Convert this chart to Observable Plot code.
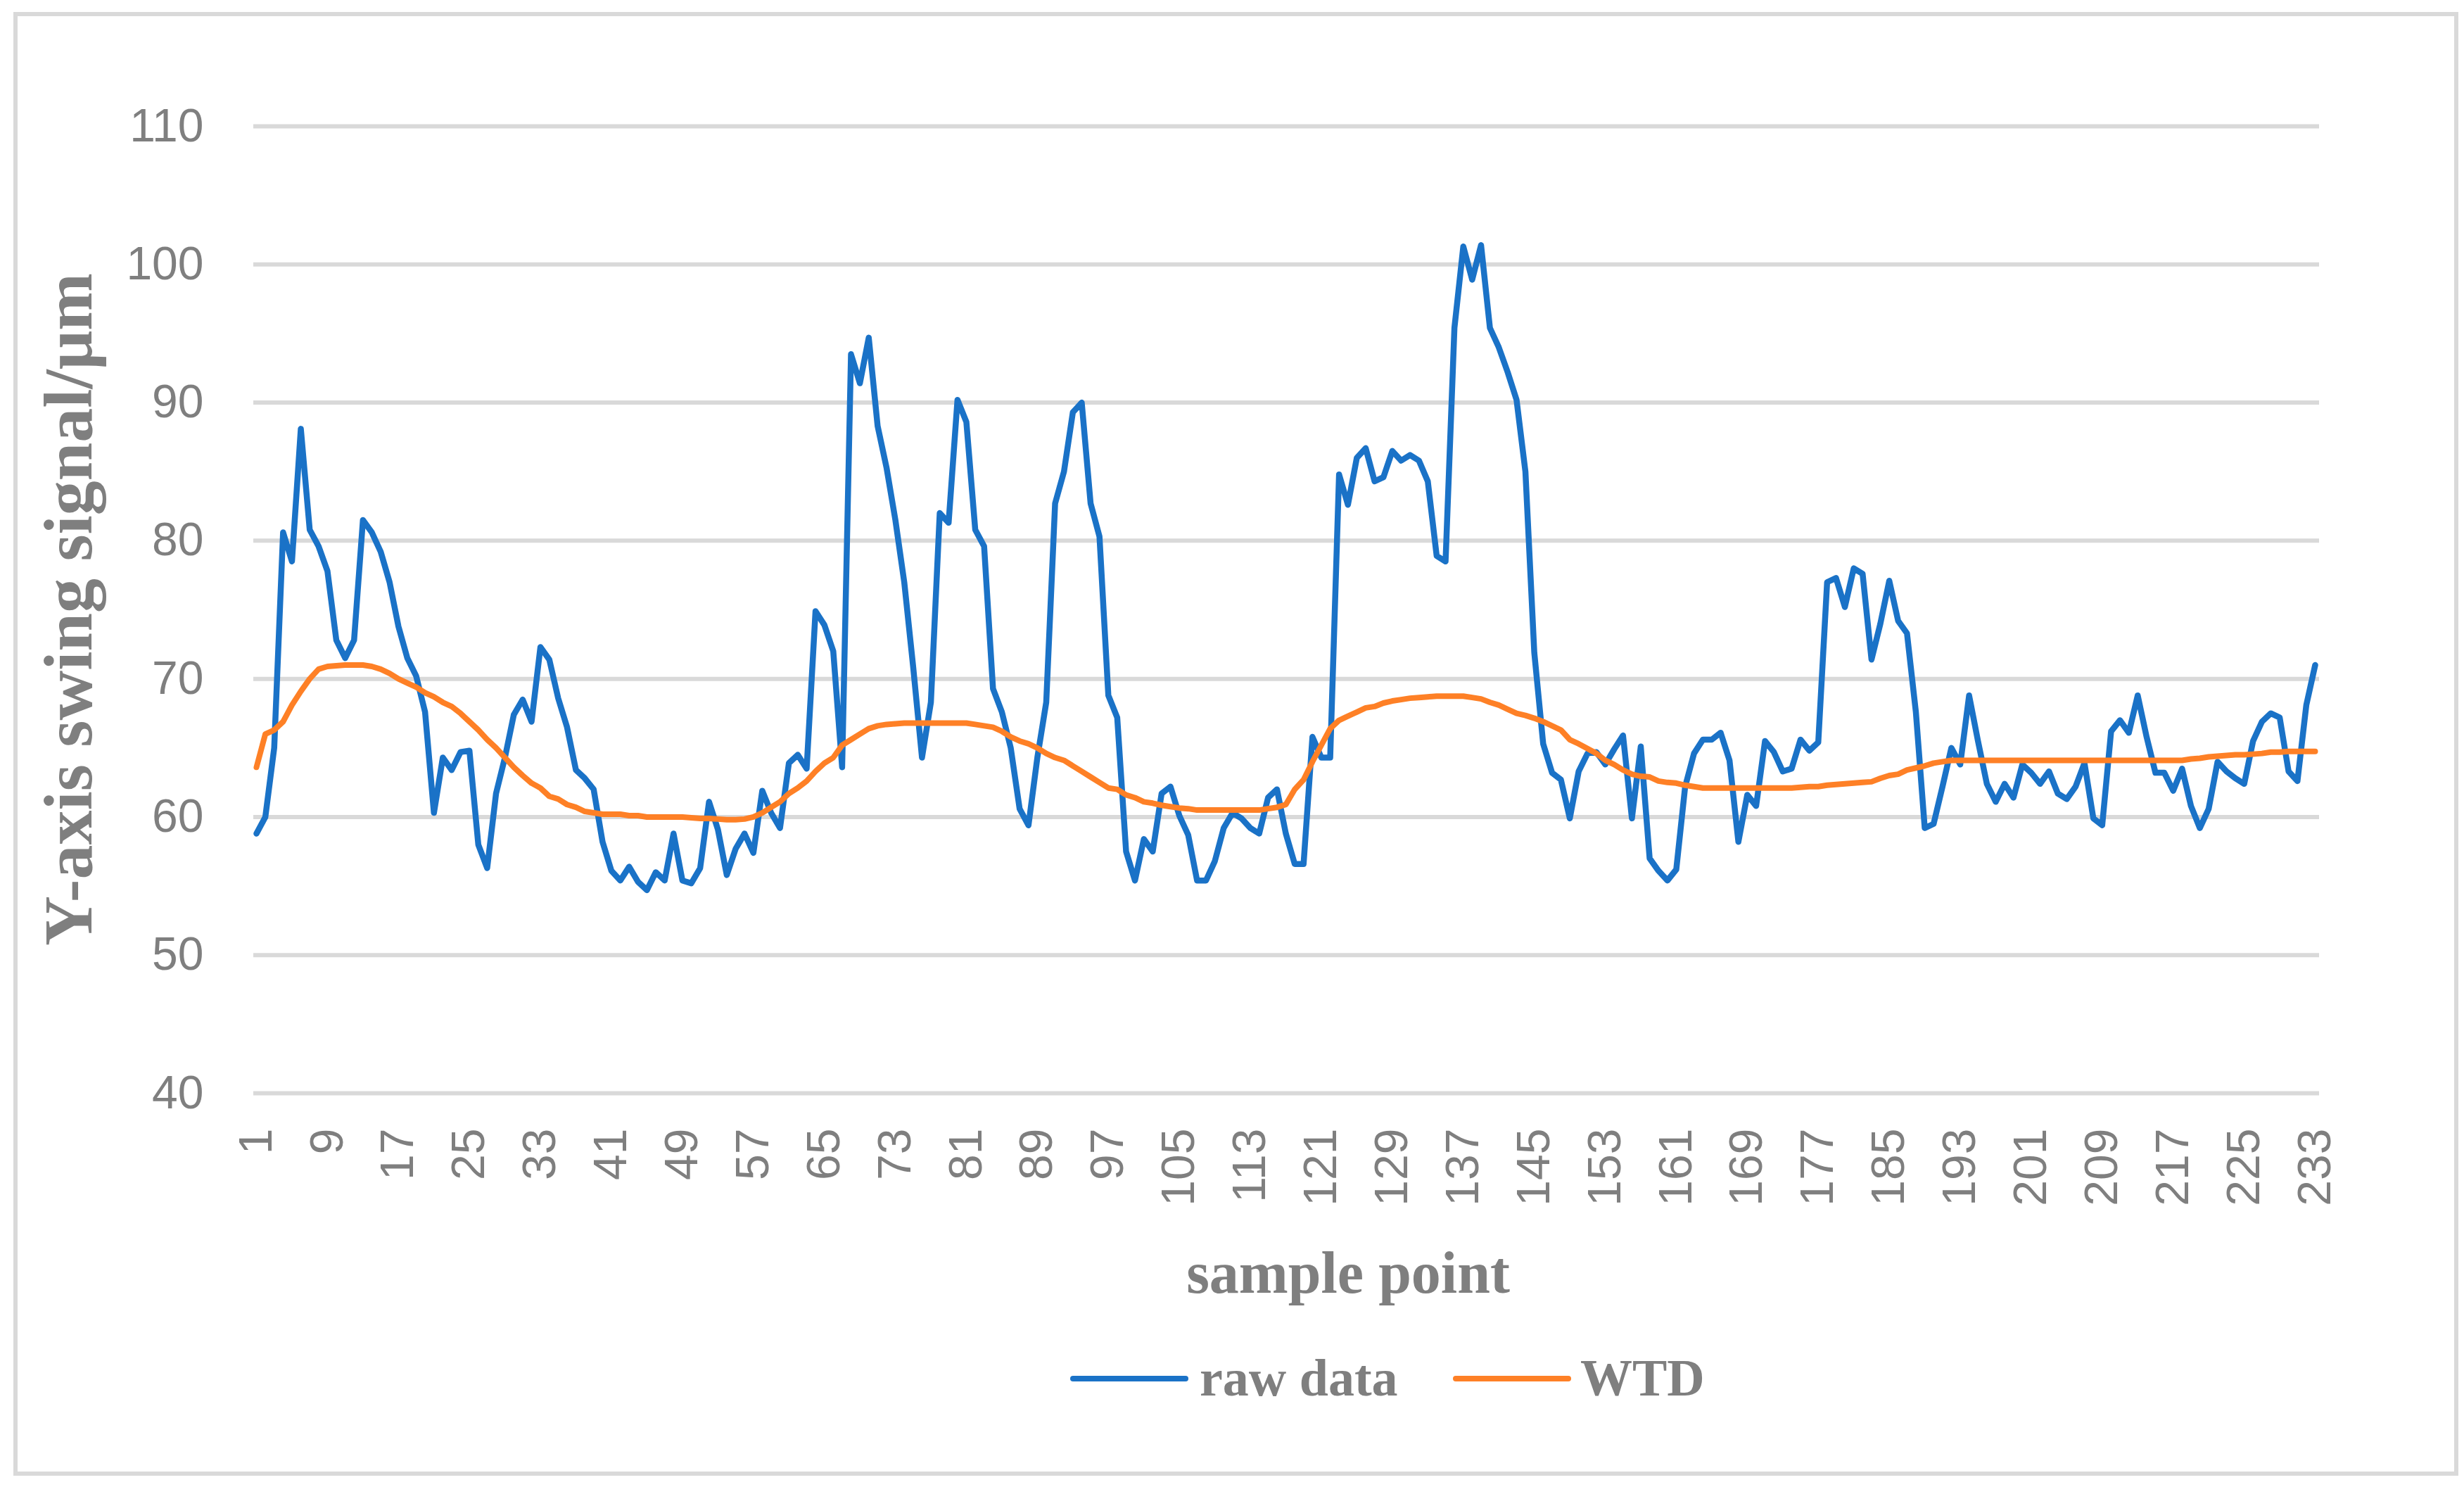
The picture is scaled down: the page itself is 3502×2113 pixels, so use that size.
<!DOCTYPE html>
<html>
<head>
<meta charset="utf-8">
<script src="https://cdn.jsdelivr.net/npm/d3@7"></script>
<script src="https://cdn.jsdelivr.net/npm/@observablehq/plot@0.6"></script>
<style>
  html, body { margin: 0; padding: 0; background: #fff; }
  #chart { position: relative; width: 3502px; height: 2113px; background: #fff; overflow: hidden; }
  #plot { position: absolute; left: 0; top: 0; }
  .frame { position: absolute; left: 19px; top: 17px; width: 3475px; height: 2080px; border: 6px solid #d9d9d9; box-sizing: border-box; }
  .ttl { position: absolute; font-family: "Liberation Serif", "Times New Roman", serif; font-weight: bold; color: #7f7f7f; line-height: 1; white-space: nowrap; }
  .swatch { position: absolute; height: 8px; width: 168px; border-radius: 4px; }
</style>
</head>
<body>
<div id="chart">
  <div class="frame"></div>
  <div id="plot"></div>
  <div class="ttl" id="ytitle" style="font-size:98px; left:97px; top:866px; transform: translate(-50%,-50%) rotate(-90deg);"></div>
  <div class="ttl" id="xtitle" style="font-size:84px; left:1916px; top:1809px; transform: translate(-50%,-50%);"></div>
  <div class="swatch" id="sw0" style="left:1521px; top:1955px;"></div>
  <div class="ttl" id="lg0" style="font-size:74px; left:1705px; top:1921px;"></div>
  <div class="swatch" id="sw1" style="left:2065px; top:1955px;"></div>
  <div class="ttl" id="lg1" style="font-size:74px; left:2246px; top:1921px;"></div>
</div>
<script>
// ---- data ----
const seriesNames = ["raw data", "WTD"];
const seriesColors = ["#1a72c7", "#fe8026"];
const yTitle = "Y-axis swing signal/μm";
const xTitle = "sample point";

const rawData = [
  58.8, 60.0, 65.0, 80.6, 78.5, 88.1, 80.8, 79.6, 77.8, 72.8,
  71.5, 72.8, 81.5, 80.6, 79.2, 77.0, 73.8, 71.5, 70.2, 67.6,
  60.3, 64.3, 63.4, 64.7, 64.8, 58.0, 56.3, 61.7, 64.3, 67.4,
  68.5, 66.9, 72.3, 71.4, 68.6, 66.5, 63.4, 62.8, 62.0, 58.2,
  56.1, 55.4, 56.4, 55.3, 54.7, 56.0, 55.4, 58.8, 55.4, 55.2,
  56.3, 61.1, 59.1, 55.8, 57.7, 58.8, 57.4, 61.9, 60.3, 59.2,
  63.9, 64.5, 63.5, 74.9, 73.9, 72.0, 63.6, 93.5, 91.4, 94.7,
  88.3, 85.3, 81.5, 77.0, 70.9, 64.3, 68.3, 82.0, 81.3, 90.2,
  88.6, 80.8, 79.6, 69.3, 67.6, 65.0, 60.6, 59.4, 64.3, 68.3,
  82.7, 85.0, 89.3, 90.0, 82.7, 80.3, 68.8, 67.2, 57.5, 55.4,
  58.4, 57.5, 61.7, 62.2, 60.1, 58.7, 55.4, 55.4, 56.8, 59.2,
  60.3, 59.9, 59.2, 58.8, 61.4, 62.0, 58.8, 56.6, 56.6, 65.8,
  64.3, 64.3, 84.8, 82.6, 86.0, 86.7, 84.3, 84.6, 86.5, 85.8,
  86.2, 85.8, 84.3, 78.9, 78.5, 95.4, 101.3, 98.9, 101.4, 95.4,
  94.0, 92.2, 90.2, 85.0, 71.9, 65.3, 63.2, 62.7, 59.9, 63.3,
  64.6, 64.7, 63.8, 64.9, 65.9, 59.9, 65.1, 57.0, 56.1, 55.4,
  56.2, 62.2, 64.6, 65.6, 65.6, 66.1, 64.1, 58.2, 61.6, 60.8,
  65.5, 64.7, 63.3, 63.5, 65.6, 64.8, 65.4, 77.0, 77.3, 75.2,
  78.0, 77.6, 71.4, 74.0, 77.1, 74.2, 73.3, 67.6, 59.2, 59.5,
  62.2, 65.0, 63.8, 68.8, 65.5, 62.4, 61.1, 62.4, 61.4, 63.8,
  63.2, 62.4, 63.3, 61.7, 61.3, 62.2, 63.9, 59.9, 59.4, 66.2,
  67.0, 66.1, 68.8, 65.8, 63.2, 63.2, 61.9, 63.5, 60.8, 59.2,
  60.6, 64.0, 63.3, 62.8, 62.4, 65.5, 66.9, 67.5, 67.2, 63.3,
  62.6, 68.1, 71.0
];

const wtdData = [
  63.6, 66.0, 66.3, 66.9, 68.1, 69.1, 70.0, 70.7, 70.9, 70.95,
  71.0, 71.0, 71.0, 70.9, 70.7, 70.4, 70.0, 69.7, 69.4, 69.0,
  68.7, 68.3, 68.0, 67.5, 66.9, 66.3, 65.6, 65.0, 64.3, 63.6,
  63.0, 62.45, 62.1, 61.5, 61.3, 60.9, 60.7, 60.4, 60.3, 60.2,
  60.2, 60.2, 60.1, 60.1, 60.0, 60.0, 60.0, 60.0, 60.0, 59.95,
  59.9, 59.9, 59.85, 59.8, 59.8, 59.85, 60.0, 60.3, 60.7, 61.1,
  61.7, 62.1, 62.6, 63.3, 63.9, 64.3, 65.2, 65.6, 66.0, 66.4,
  66.6, 66.7, 66.75, 66.8, 66.8, 66.8, 66.8, 66.8, 66.8, 66.8,
  66.8, 66.7, 66.6, 66.5, 66.2, 65.8, 65.5, 65.3, 65.0, 64.6,
  64.3, 64.1, 63.7, 63.3, 62.9, 62.5, 62.1, 62.0, 61.6, 61.4,
  61.1, 61.0, 60.85, 60.75, 60.65, 60.6, 60.5, 60.5, 60.5, 60.5,
  60.5, 60.5, 60.5, 60.5, 60.6, 60.7, 60.9, 62.0, 62.7, 64.0,
  65.2, 66.4, 67.0, 67.3, 67.6, 67.9, 68.0, 68.25, 68.4, 68.5,
  68.6, 68.65, 68.7, 68.75, 68.75, 68.75, 68.75, 68.65, 68.55, 68.3,
  68.1, 67.8, 67.5, 67.35, 67.15, 66.9, 66.6, 66.3, 65.6, 65.3,
  64.95, 64.6, 64.1, 63.8, 63.4, 63.1, 62.95, 62.9, 62.6, 62.5,
  62.45, 62.3, 62.2, 62.1, 62.1, 62.1, 62.1, 62.1, 62.1, 62.1,
  62.1, 62.1, 62.1, 62.1, 62.15, 62.2, 62.2, 62.3, 62.35, 62.4,
  62.45, 62.5, 62.55, 62.8, 63.0, 63.1, 63.4, 63.55, 63.7, 63.9,
  64.0, 64.1, 64.1, 64.1, 64.1, 64.1, 64.1, 64.1, 64.1, 64.1,
  64.1, 64.1, 64.1, 64.1, 64.1, 64.1, 64.1, 64.1, 64.1, 64.1,
  64.1, 64.1, 64.1, 64.1, 64.1, 64.1, 64.1, 64.1, 64.2, 64.25,
  64.35, 64.4, 64.45, 64.5, 64.5, 64.55, 64.6, 64.7, 64.7, 64.75,
  64.75, 64.75, 64.75
];

const xTicks = [1, 9, 17, 25, 33, 41, 49, 57, 65, 73, 81, 89, 97, 105, 113, 121, 129, 137, 145, 153, 161, 169, 177, 185, 193, 201, 209, 217, 225, 233];
const yTicks = [40, 50, 60, 70, 80, 90, 100, 110];

// ---- tables ----
const rawTable = rawData.map((v, i) => ({sample: i + 1, value: v}));
const wtdTable = wtdData.map((v, i) => ({sample: i + 1, value: v}));

const plot = Plot.plot({
  width: 3502,
  height: 1720,
  marginTop: 179,
  marginBottom: 167,
  marginLeft: 364,
  marginRight: 212,
  style: {fontFamily: '"Liberation Sans", Arial, sans-serif', fontSize: "66px", color: "#7f7f7f", background: "transparent", overflow: "visible"},
  x: {domain: [1, 233]},
  y: {domain: [40, 110]},
  marks: [
    Plot.ruleY(yTicks, {stroke: "#d9d9d9", strokeWidth: 6, insetLeft: -4, insetRight: -6}),
    Plot.axisY({ticks: yTicks, tickSize: 0, tickPadding: 75, label: null, tickFormat: d => String(d)}),
    Plot.axisX({ticks: xTicks, tickSize: 0, tickPadding: 50, tickRotate: -90, label: null, tickFormat: d => String(d)}),
    Plot.line(rawTable, {x: "sample", y: "value", stroke: seriesColors[0], strokeWidth: 8.5, strokeLinejoin: "round", strokeLinecap: "round"}),
    Plot.line(wtdTable, {x: "sample", y: "value", stroke: seriesColors[1], strokeWidth: 8, strokeLinejoin: "round", strokeLinecap: "round"})
  ]
});
document.getElementById("plot").appendChild(plot);

document.getElementById("ytitle").textContent = yTitle;
document.getElementById("xtitle").textContent = xTitle;
document.getElementById("lg0").textContent = seriesNames[0];
document.getElementById("lg1").textContent = seriesNames[1];
document.getElementById("sw0").style.background = seriesColors[0];
document.getElementById("sw1").style.background = seriesColors[1];
</script>
</body>
</html>
